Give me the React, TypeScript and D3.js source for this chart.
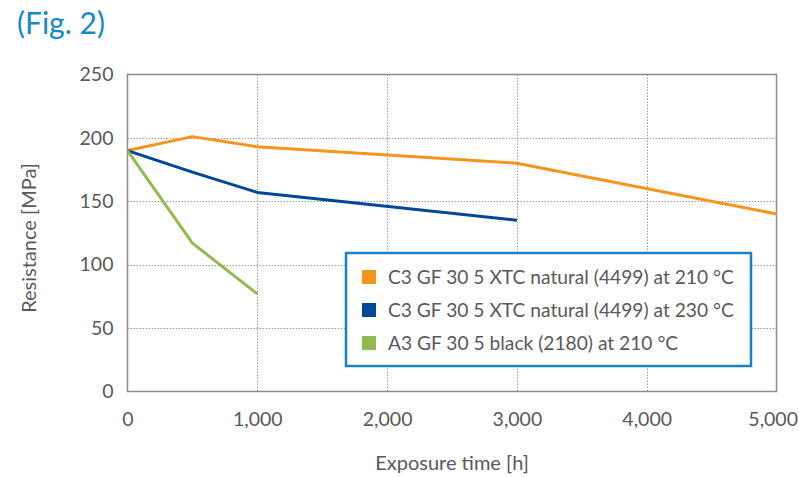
import { useRef, useEffect } from "react";
import * as d3 from "d3";

const hours = [0, 500, 1000, 3000, 5000];
const c3At210 = [190, 201, 193, 180, 140];
const c3At230 = [190, 173, 157, 135];
const a3At210 = [190, 117, 77];
const seriesNames = [
  "C3 GF 30 5 XTC natural (4499) at 210 °C",
  "C3 GF 30 5 XTC natural (4499) at 230 °C",
  "A3 GF 30 5 black (2180) at 210 °C",
];
const seriesColors = ["#F7941D", "#00479B", "#93BA50"];
const xTicks = [0, 1000, 2000, 3000, 4000, 5000];
const yTicks = [0, 50, 100, 150, 200, 250];

function App() {
  const svgRef = useRef<SVGSVGElement>(null);

  useEffect(() => {
    const w = 799;
    const h = 477;
    const svg = d3.select(svgRef.current).attr("width", w).attr("height", h);
    svg.selectAll("*").remove();

    const font = "Lato, 'Open Sans', sans-serif";
    const left = 127.5;
    const right = 776.5;
    const top = 74.5;
    const bottom = 391.5;

    // scales
    const xScale = d3.scaleLinear().domain([0, 5000]).range([left, right]);
    const yScale = d3.scaleLinear().domain([0, 250]).range([bottom, top]);

    // title
    svg
      .append("text")
      .attr("x", 17)
      .attr("y", 34)
      .attr("font-family", font)
      .attr("font-size", 30)
      .attr("fill", "#1488CC")
      .text("(Fig. 2)");

    // grid
    const grid = svg.append("g");
    grid
      .selectAll("line.h")
      .data(yTicks.filter((d) => d > 0 && d < 250))
      .enter()
      .append("line")
      .attr("x1", left)
      .attr("x2", right)
      .attr("y1", (d) => Math.round(yScale(d)) + 0.5)
      .attr("y2", (d) => Math.round(yScale(d)) + 0.5)
      .attr("stroke", "#9a9a9a")
      .attr("stroke-dasharray", "1.5,1.5");
    grid
      .selectAll("line.v")
      .data(xTicks.filter((d) => d > 0 && d < 5000))
      .enter()
      .append("line")
      .attr("y1", top)
      .attr("y2", bottom)
      .attr("x1", (d) => Math.round(xScale(d)) + 0.5)
      .attr("x2", (d) => Math.round(xScale(d)) + 0.5)
      .attr("stroke", "#9a9a9a")
      .attr("stroke-dasharray", "1.5,1.5");

    // frame
    svg
      .append("rect")
      .attr("x", left)
      .attr("y", top)
      .attr("width", right - left)
      .attr("height", bottom - top)
      .attr("fill", "none")
      .attr("stroke", "#8c8c8c")
      .attr("stroke-width", 1.5);

    // axes
    const xAxis = d3
      .axisBottom(xScale)
      .tickValues(xTicks)
      .tickSize(0)
      .tickPadding(21)
      .tickFormat(d3.format(","));
    const yAxis = d3
      .axisLeft(yScale)
      .tickValues(yTicks)
      .tickSize(0)
      .tickPadding(14);
    const gx = svg.append("g").attr("transform", `translate(0, ${bottom})`).call(xAxis);
    const gy = svg.append("g").attr("transform", `translate(${left}, 0)`).call(yAxis);
    [gx, gy].forEach((g) => {
      g.select(".domain").remove();
      g.selectAll("text")
        .attr("font-family", font)
        .attr("font-size", 19.5)
        .attr("fill", "#595959");
    });
    // keep the last x label inside the page
    gx.selectAll<SVGTextElement, number>("text")
      .filter((d) => d === 5000)
      .attr("text-anchor", "end")
      .attr("dx", 21);

    // axis labels
    svg
      .append("text")
      .attr("x", 452)
      .attr("y", 470)
      .attr("text-anchor", "middle")
      .attr("font-family", font)
      .attr("font-size", 20)
      .attr("fill", "#595959")
      .text("Exposure time [h]");
    svg
      .append("text")
      .attr("transform", `translate(36, 238) rotate(-90)`)
      .attr("text-anchor", "middle")
      .attr("font-family", font)
      .attr("font-size", 20)
      .attr("fill", "#595959")
      .text("Resistance [MPa]");

    // lines
    const series = [c3At210, c3At230, a3At210];
    const line = d3
      .line<number>()
      .x((_, i) => xScale(hours[i]))
      .y((d) => yScale(d));
    series.forEach((vals, i) => {
      svg
        .append("path")
        .attr("d", line(vals))
        .attr("fill", "none")
        .attr("stroke", seriesColors[i])
        .attr("stroke-width", 3)
        .attr("stroke-linejoin", "round");
    });

    // legend
    const lg = svg.append("g").attr("transform", "translate(346, 253)");
    lg.append("rect")
      .attr("width", 405)
      .attr("height", 113)
      .attr("fill", "#fff")
      .attr("stroke", "#1A82C4")
      .attr("stroke-width", 2.5);
    seriesNames.forEach((name, i) => {
      const y = 24 + i * 33;
      lg.append("rect")
        .attr("x", 16)
        .attr("y", y - 7)
        .attr("width", 14)
        .attr("height", 14)
        .attr("fill", seriesColors[i]);
      lg.append("text")
        .attr("x", 42)
        .attr("y", y + 7)
        .attr("font-family", font)
        .attr("font-size", 19.2)
        .attr("fill", "#595959")
        .text(name);
    });
  }, []);

  return (
    <svg
      ref={svgRef}
      style={{ position: "absolute", left: 0, top: 0, display: "block" }}
    ></svg>
  );
}

export default App;
